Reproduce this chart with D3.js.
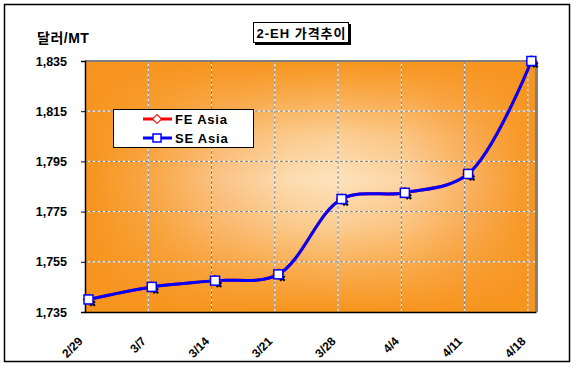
<!DOCTYPE html>
<html>
<head>
<meta charset="utf-8">
<script src="https://cdn.jsdelivr.net/npm/d3@7"></script>
<style>
  body { margin: 0; background: #fff; }
  svg text { font-family: "Liberation Sans", Arial, "Noto Sans CJK KR", sans-serif; font-weight: bold; }
</style>
</head>
<body>
<svg width="576" height="370"></svg>
<script>
const dates = ['2/29', '3/7', '3/14', '3/21', '3/28', '4/4', '4/11', '4/18'];
const dayOffsets = [0, 7, 14, 21, 28, 35, 42, 49];
const feAsia = [1740, 1745, 1747.5, 1750, 1780, 1782.5, 1790, 1835];
const seAsia = [1740, 1745, 1747.5, 1750, 1780, 1782.5, 1790, 1835];
const yTicks = [1735, 1755, 1775, 1795, 1815, 1835];
const seriesNames = ['FE Asia', 'SE Asia'];

const svg = d3.select('svg');
const plot = { left: 85, top: 61, right: 536, bottom: 312 };

const x = d3.scaleLinear().domain([0, 49.9]).range([plot.left, plot.right]);
const y = d3.scaleLinear().domain([1735, 1835]).range([plot.bottom, plot.top]);
const shift = 3.5; // markers sit a little right of the gridlines

// outer frame
svg.append('rect').attr('x', 4.5).attr('y', 4.5).attr('width', 565).attr('height', 357)
  .attr('fill', '#fff').attr('stroke', '#000').attr('stroke-width', 1.5);

// plot background: centre gradient built from two linear ones
const defs = svg.append('defs');
const gh = defs.append('linearGradient').attr('id', 'gh').attr('x1', 0).attr('x2', 1).attr('y1', 0).attr('y2', 0);
[[0, '#f7941d'], [0.15, '#f8a848'], [0.3, '#fbc488'], [0.45, '#fcdcb0'], [0.55, '#fde3be'], [0.7, '#fcd6a6'], [0.86, '#f9b060'], [1, '#f7941d']]
  .forEach(s => gh.append('stop').attr('offset', s[0]).attr('stop-color', s[1]));
const gv = defs.append('linearGradient').attr('id', 'gv').attr('x1', 0).attr('x2', 0).attr('y1', 0).attr('y2', 1);
[[0, 1], [0.15, 0.65], [0.3, 0.25], [0.47, 0], [0.65, 0.25], [0.82, 0.65], [1, 1]]
  .forEach(s => gv.append('stop').attr('offset', s[0]).attr('stop-color', '#f7941d').attr('stop-opacity', s[1]));

const pw = plot.right - plot.left, ph = plot.bottom - plot.top;
svg.append('rect').attr('x', plot.left).attr('y', plot.top).attr('width', pw).attr('height', ph).attr('fill', 'url(#gh)');
svg.append('rect').attr('x', plot.left).attr('y', plot.top).attr('width', pw).attr('height', ph).attr('fill', 'url(#gv)');

// gridlines
const grid = svg.append('g');
yTicks.slice(1, -1).forEach(v => {
  grid.append('line').attr('x1', plot.left).attr('x2', plot.right).attr('y1', y(v)).attr('y2', y(v))
    .attr('stroke', '#fff').attr('stroke-width', 1);
  grid.append('line').attr('x1', plot.left).attr('x2', plot.right).attr('y1', y(v)).attr('y2', y(v))
    .attr('stroke', '#808080').attr('stroke-width', 1).attr('stroke-dasharray', '3,2');
});
dayOffsets.slice(1).forEach(d => {
  grid.append('line').attr('x1', x(d)).attr('x2', x(d)).attr('y1', plot.top).attr('y2', plot.bottom)
    .attr('stroke', '#fff').attr('stroke-width', 1);
  grid.append('line').attr('x1', x(d)).attr('x2', x(d)).attr('y1', plot.top).attr('y2', plot.bottom)
    .attr('stroke', '#808080').attr('stroke-width', 1).attr('stroke-dasharray', '3,2');
});

// plot border (grey top/right) and axes
svg.append('line').attr('x1', plot.left).attr('x2', plot.right + 1).attr('y1', plot.top).attr('y2', plot.top)
  .attr('stroke', '#808080').attr('stroke-width', 2);
svg.append('line').attr('x1', plot.right + 0.5).attr('x2', plot.right + 0.5).attr('y1', plot.top).attr('y2', plot.bottom)
  .attr('stroke', '#808080').attr('stroke-width', 3);

const yAxis = svg.append('g').attr('transform', `translate(${plot.left},0)`)
  .call(d3.axisLeft(y).tickValues(yTicks).tickSize(4).tickFormat(d3.format(',')));
yAxis.select('.domain').attr('stroke', '#000').attr('stroke-width', 1.5);
yAxis.selectAll('.tick line').attr('stroke', '#000');
yAxis.selectAll('.tick text').attr('x', -18).attr('font-size', 12.5).attr('fill', '#000')
  .attr('font-family', '"Liberation Sans", Arial, sans-serif');

const xAxis = svg.append('g').attr('transform', `translate(0,${plot.bottom})`)
  .call(d3.axisBottom(x).tickValues(dayOffsets).tickSize(0).tickFormat((d, i) => dates[i]));
xAxis.select('.domain').attr('stroke', '#000').attr('stroke-width', 1.5);
xAxis.selectAll('.tick text')
  .attr('font-size', 12).attr('fill', '#000')
  .attr('font-family', '"Liberation Sans", Arial, sans-serif')
  .attr('text-anchor', 'end').attr('dy', 0).attr('y', 0)
  .attr('transform', 'translate(-2,30) rotate(-45)');

// series
const line = d3.line().x((d, i) => x(dayOffsets[i]) + shift).y(d => y(d)).curve(d3.curveCatmullRom.alpha(0.5));

svg.append('path').datum(feAsia).attr('d', line).attr('fill', 'none').attr('stroke', '#ff0000').attr('stroke-width', 3);
svg.append('path').datum(seAsia).attr('d', line).attr('fill', 'none').attr('stroke', '#0000ff').attr('stroke-width', 3);

// shadow marks
svg.append('g').selectAll('path').data(feAsia).join('path')
  .attr('d', d3.symbol(d3.symbolCross, 24))
  .attr('transform', (d, i) => `translate(${x(dayOffsets[i]) + shift + 4},${y(d) + 4}) rotate(45)`)
  .attr('fill', '#000');

svg.append('g').selectAll('path').data(feAsia).join('path')
  .attr('d', d3.symbol(d3.symbolSquare, 56))
  .attr('transform', (d, i) => `translate(${x(dayOffsets[i]) + shift},${y(d)}) rotate(45)`)
  .attr('fill', '#fff').attr('stroke', '#ff0000').attr('stroke-width', 1);

svg.append('g').selectAll('rect').data(seAsia).join('rect')
  .attr('x', (d, i) => x(dayOffsets[i]) + shift - 4.5).attr('y', d => y(d) - 4.5)
  .attr('width', 9).attr('height', 9)
  .attr('fill', '#fff').attr('stroke', '#0000ff').attr('stroke-width', 1.5);

// unit label
svg.append('text').attr('x', 37).attr('y', 43).attr('font-size', 14).attr('letter-spacing', 0.5).attr('fill', '#000')
  .text('달러/MT');

// title box with shadow
svg.append('rect').attr('x', 255).attr('y', 24).attr('width', 96).attr('height', 21).attr('fill', '#000');
svg.append('rect').attr('x', 253.5).attr('y', 22.5).attr('width', 95).attr('height', 20)
  .attr('fill', '#fff').attr('stroke', '#000').attr('stroke-width', 1);
svg.append('text').attr('x', 301.5).attr('y', 37.5).attr('text-anchor', 'middle').attr('font-size', 13)
  .attr('letter-spacing', 1).attr('fill', '#000').text('2-EH 가격추이');

// legend
const legend = svg.append('g');
legend.append('rect').attr('x', 113.5).attr('y', 109.5).attr('width', 140).attr('height', 38)
  .attr('fill', '#fff').attr('stroke', '#000').attr('stroke-width', 1);
const legColors = ['#ff0000', '#0000ff'];
seriesNames.forEach((name, i) => {
  const ly = 119 + i * 19;
  legend.append('line').attr('x1', 143).attr('x2', 172).attr('y1', ly).attr('y2', ly)
    .attr('stroke', legColors[i]).attr('stroke-width', 3);
  if (i === 0) {
    legend.append('path').attr('d', d3.symbol(d3.symbolSquare, 40))
      .attr('transform', `translate(157,${ly}) rotate(45)`)
      .attr('fill', '#fff').attr('stroke', legColors[i]).attr('stroke-width', 1);
  } else {
    legend.append('rect').attr('x', 153).attr('y', ly - 4).attr('width', 8).attr('height', 8)
      .attr('fill', '#fff').attr('stroke', legColors[i]).attr('stroke-width', 1.5);
  }
  legend.append('text').attr('x', 175).attr('y', ly + 5).attr('font-size', 13).attr('fill', '#000')
    .attr('letter-spacing', 0.8).text(name);
});
</script>
</body>
</html>
